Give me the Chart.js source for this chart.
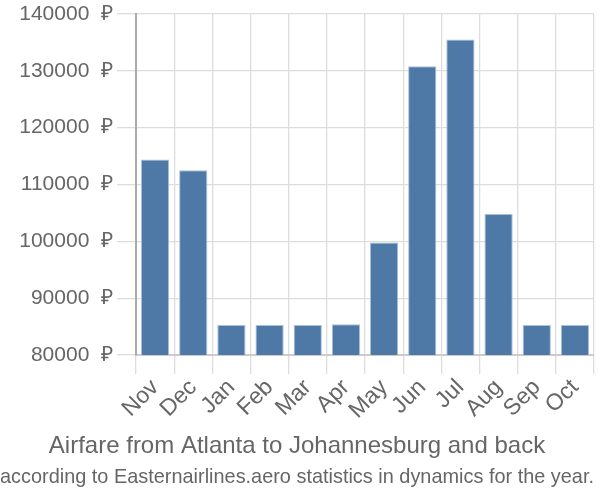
<!DOCTYPE html>
<html>
<head>
<meta charset="utf-8">
<script src="https://cdn.jsdelivr.net/npm/chart.js@4.4.0/dist/chart.umd.min.js"></script>
<style>
html,body{margin:0;padding:0;background:#fff;}
#wrap{width:600px;height:500px;position:relative;}
</style>
</head>
<body>
<div id="wrap"><canvas id="c" width="600" height="500"></canvas></div>
<script>
const months = ["Nov","Dec","Jan","Feb","Mar","Apr","May","Jun","Jul","Aug","Sep","Oct"];
const prices = [114400,112500,85300,85300,85300,85400,99800,130800,135500,104800,85300,85300];
const yTicks = [80000,90000,100000,110000,120000,130000,140000];
const titleText = "Airfare from Atlanta to Johannesburg and back";
const subtitleText = "according to Easternairlines.aero statistics in dynamics for the year.";

const FONT = "'Liberation Sans', Arial, sans-serif";

new Chart(document.getElementById('c'), {
  type: 'bar',
  data: {
    labels: months,
    datasets: [{
      data: prices,
      backgroundColor: '#4e79a7',
      borderColor: '#a9c0da',
      borderWidth: 1,
      categoryPercentage: 0.74,
      barPercentage: 1.0
    }]
  },
  options: {
    responsive: false,
    animation: false,
    devicePixelRatio: 1,
    layout: { padding: { left: 0, right: 6, top: 0, bottom: 0 } },
    plugins: {
      legend: { display: false },
      tooltip: { enabled: false },
      title: {
        display: true, text: titleText, position: 'bottom', weight: 1000,
        color: '#666', font: { family: FONT, size: 24, weight: 'normal' },
        padding: { top: 0, bottom: 2 }
      },
      subtitle: {
        display: true, text: subtitleText, position: 'bottom', weight: 2500,
        color: '#666', font: { family: FONT, size: 21, weight: 'normal' },
        padding: { top: 2, bottom: 10 }
      }
    },
    scales: {
      x: {
        afterFit: (s) => { s.height = 77; },
        grid: { offset: true, color: '#dddddd', lineWidth: 1.3, tickLength: 19, drawOnChartArea: true },
        border: { color: '#cccccc', width: 2 },
        ticks: { color: '#666', font: { family: FONT, size: 23 }, maxRotation: 45, minRotation: 45, padding: 0, autoSkip: false }
      },
      y: {
        min: 80000, max: 140000,
        afterFit: (s) => { s.width = 136; s.paddingTop = 14; s.paddingBottom = 0; },
        afterBuildTicks: (s) => { s.ticks = yTicks.map(v => ({ value: v })); },
        grid: { color: '#dddddd', lineWidth: 1.3, tickLength: 19 },
        border: { color: '#aaaaaa', width: 2 },
        ticks: { color: '#666', font: { family: FONT, size: 21 }, padding: 4,
          callback: (v) => v + '  ₽' }
      }
    }
  }
});
</script>
</body>
</html>
